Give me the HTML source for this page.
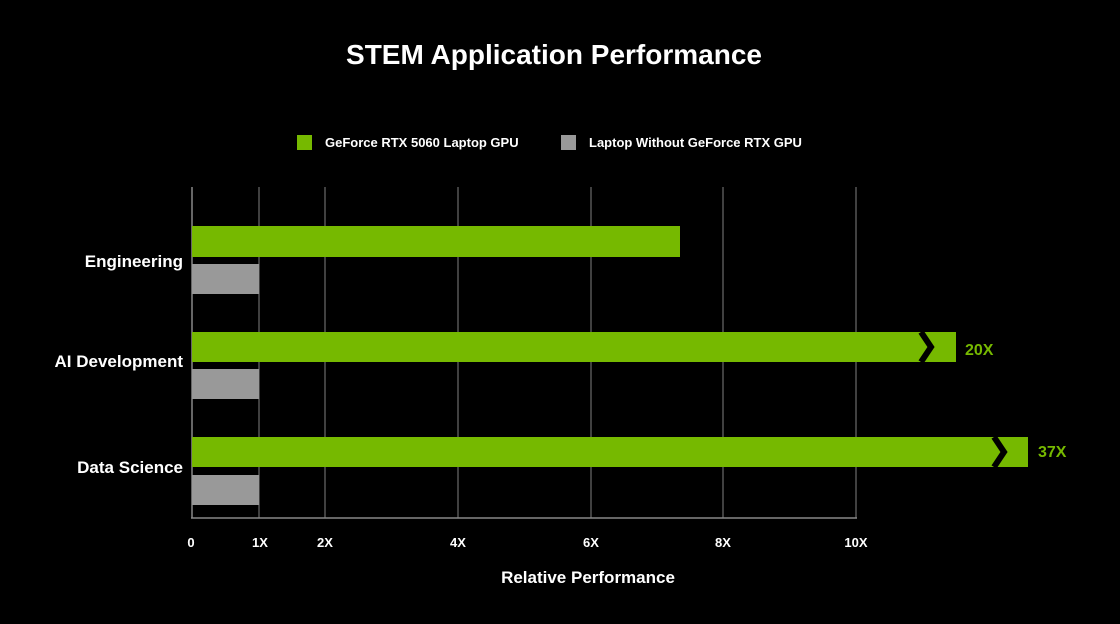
<!DOCTYPE html>
<html><head><style>
html,body{margin:0;padding:0;background:#000;}
svg{display:block;font-family:"Liberation Sans",sans-serif;font-weight:bold;}
</style></head><body>
<svg width="1120" height="624" viewBox="0 0 1120 624">
<rect width="1120" height="624" fill="#000"/>
<text x="554" y="64" fill="#fff" font-size="28" text-anchor="middle">STEM Application Performance</text>
<rect x="297" y="135" width="15" height="15" fill="#76b900"/>
<text x="325" y="147" fill="#fff" font-size="13">GeForce RTX 5060 Laptop GPU</text>
<rect x="561" y="135" width="15" height="15" fill="#999"/>
<text x="589" y="147" fill="#fff" font-size="13">Laptop Without GeForce RTX GPU</text>
<g stroke="#6a6a6a" stroke-width="1.2">
<line x1="259" y1="187" x2="259" y2="518"/>
<line x1="325" y1="187" x2="325" y2="518"/>
<line x1="458" y1="187" x2="458" y2="518"/>
<line x1="591" y1="187" x2="591" y2="518"/>
<line x1="723" y1="187" x2="723" y2="518"/>
<line x1="856" y1="187" x2="856" y2="518"/>
</g>
<line x1="192" y1="187" x2="192" y2="518" stroke="#888" stroke-width="1.5"/>
<line x1="191" y1="518" x2="857" y2="518" stroke="#888" stroke-width="1.5"/>
<rect x="192" y="226" width="488" height="31" fill="#76b900"/>
<rect x="192" y="264" width="67" height="30" fill="#999"/>
<rect x="192" y="332" width="764" height="30" fill="#76b900"/>
<rect x="192" y="369" width="67" height="30" fill="#999"/>
<rect x="192" y="437" width="836" height="30" fill="#76b900"/>
<rect x="192" y="475" width="67" height="30" fill="#999"/>
<polyline points="921,332 931,347 921,362" fill="none" stroke="#000" stroke-width="6"/>
<polyline points="994,437 1004,452 994,467" fill="none" stroke="#000" stroke-width="6"/>
<text x="965" y="355" fill="#76b900" font-size="16">20X</text>
<text x="1038" y="457" fill="#76b900" font-size="16">37X</text>
<g fill="#fff" font-size="17" text-anchor="end">
<text x="183" y="267">Engineering</text>
<text x="183" y="367">AI Development</text>
<text x="183" y="473">Data Science</text>
</g>
<g fill="#fff" font-size="13" text-anchor="middle">
<text x="191" y="547">0</text>
<text x="260" y="547">1X</text>
<text x="325" y="547">2X</text>
<text x="458" y="547">4X</text>
<text x="591" y="547">6X</text>
<text x="723" y="547">8X</text>
<text x="856" y="547">10X</text>
</g>
<text x="588" y="583" fill="#fff" font-size="17" text-anchor="middle">Relative Performance</text>
</svg>
</body></html>
